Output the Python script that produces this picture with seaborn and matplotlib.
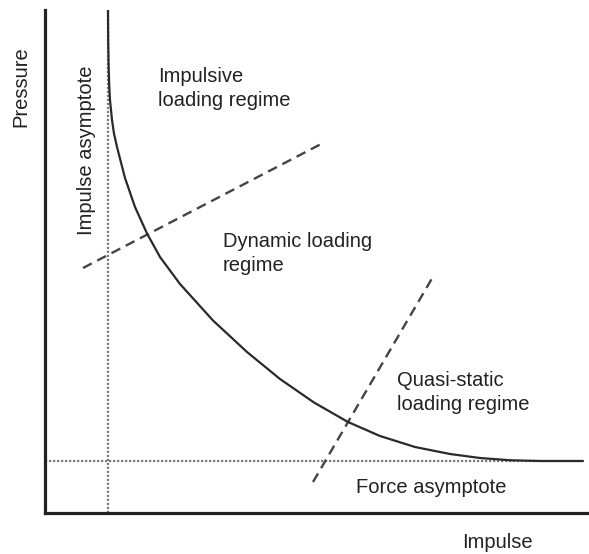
import matplotlib
matplotlib.use("Agg")
import matplotlib.pyplot as plt
import seaborn as sns
import pandas as pd

# ---- data (arbitrary units: impulse, pressure) ----
curve_impulse = [1.26, 1.264, 1.272, 1.284, 1.30, 1.34, 1.38, 1.44, 1.60, 1.80, 2.04,
                 2.30, 2.70, 3.36, 4.04, 4.70, 5.38, 6.06, 6.70, 7.40, 8.10, 8.70,
                 9.30, 9.90, 10.76]
curve_pressure = [10.06, 9.46, 8.96, 8.56, 8.26, 7.86, 7.59, 7.32, 6.70, 6.12, 5.59,
                  5.12, 4.58, 3.85, 3.22, 2.68, 2.21, 1.82, 1.54, 1.32, 1.18, 1.10,
                  1.055, 1.04, 1.04]

impulse_asymptote = 1.26
force_asymptote = 1.04

dash1_impulse = [0.76, 5.56]
dash1_pressure = [4.90, 7.40]
dash2_impulse = [5.36, 7.78]
dash2_pressure = [0.62, 4.76]

x_max, y_max = 10.86, 10.06

sns.set_theme(style="white")
plt.rcParams["font.family"] = ["Liberation Sans", "DejaVu Sans"]

fig = plt.figure(figsize=(5.89, 5.54), dpi=100)
ax = fig.add_axes([45 / 589, (554 - 513) / 554, (588 - 45) / 589, (513 - 10) / 554])
ax.set_xlim(0, x_max)
ax.set_ylim(0, y_max)

# asymptotes (dotted)
asym_v = pd.DataFrame({"x": [impulse_asymptote, impulse_asymptote], "y": [0, y_max]})
asym_h = pd.DataFrame({"x": [0, curve_impulse[-1]], "y": [force_asymptote, force_asymptote]})
for df in (asym_v, asym_h):
    sns.lineplot(data=df, x="x", y="y", ax=ax, color="#7a7a7a", lw=1.6,
                 linestyle=(0, (1, 0.8)), sort=False, estimator=None)

# regime boundaries (dashed)
for xs, ys in ((dash1_impulse, dash1_pressure), (dash2_impulse, dash2_pressure)):
    sns.lineplot(x=xs, y=ys, ax=ax, color="#444444", lw=1.7,
                 linestyle=(0, (4.2, 2.6)), sort=False, estimator=None)

# P-I curve
sns.lineplot(x=curve_impulse, y=curve_pressure, ax=ax, color="#2a2a2a", lw=1.6,
             sort=False, estimator=None)
ax.lines[-1].set_solid_joinstyle("round")

for s in ("top", "right"):
    ax.spines[s].set_visible(False)
for s in ("left", "bottom"):
    ax.spines[s].set_color("#222222")
    ax.spines[s].set_linewidth(2.3)
ax.set_xticks([])
ax.set_yticks([])
ax.set_xlabel("")
ax.set_ylabel("")


def px(xp, yp):
    return (xp - 45) / 50, (513 - yp) / 50


fs = 14.5
tc = "#222222"
kw = dict(fontsize=fs, color=tc, transform=ax.transData, clip_on=False, va="baseline", ha="left")

for (xp, yp), t in [((158, 82), "Impulsive"), ((158, 105.5), "loading regime"),
                    ((223, 247), "Dynamic loading"), ((223, 271), "regime"),
                    ((397, 386), "Quasi-static"), ((397, 410), "loading regime"),
                    ((356, 493), "Force asymptote"), ((462, 548), "Impulse")]:
    ax.text(*px(xp, yp), t, **kw)

ax.text(*px(26, 87), "Pressure", fontsize=fs, color=tc, rotation=90,
        rotation_mode="anchor", ha="center", va="baseline", clip_on=False)
ax.text(*px(92.5, 150), "Impulse asymptote", fontsize=fs, color=tc, rotation=90,
        rotation_mode="anchor", ha="center", va="baseline", clip_on=False)

fig.savefig("out.png", dpi=100)
